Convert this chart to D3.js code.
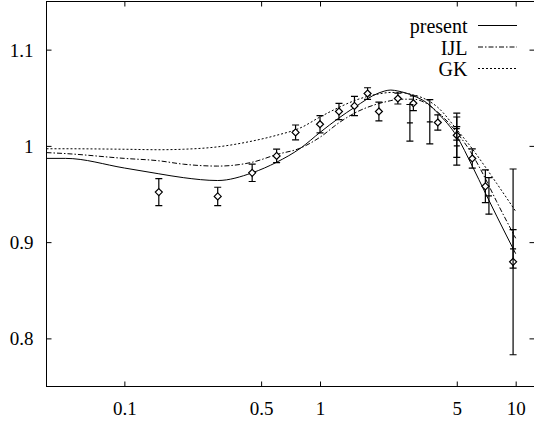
<!DOCTYPE html>
<html>
<head>
<meta charset="utf-8">
<script src="https://cdn.jsdelivr.net/npm/d3@7/dist/d3.min.js"></script>
<style>
  html, body { margin: 0; padding: 0; background: #fff; }
  svg { display: block; }
</style>
</head>
<body>
<svg id="chart" width="534" height="425"></svg>
<script>
// Theory curves sampled on a common x grid
const curveX   = [0.04, 0.05, 0.1, 0.15, 0.2, 0.3, 0.45, 0.6, 0.8, 1.0, 1.25, 1.5, 2.0, 2.3, 2.5, 3.0, 3.5, 4.0, 5.0, 6.0, 7.0, 8.0, 10.0];
const presentY = [0.987, 0.987, 0.977, 0.971, 0.967, 0.964, 0.972, 0.983, 0.998, 1.014, 1.029, 1.040, 1.055, 1.058, 1.057, 1.052, 1.045, 1.034, 1.010, 0.979, 0.951, 0.927, 0.888];
const ijlY     = [0.993, 0.992, 0.987, 0.9845, 0.981, 0.979, 0.983, 0.991, 0.998, 1.009, 1.024, 1.034, 1.044, 1.047, 1.0485, 1.0485, 1.044, 1.035, 1.014, 0.991, 0.966, 0.942, 0.904];
const gkY      = [0.997, 0.997, 0.9965, 0.996, 0.9965, 0.999, 1.005, 1.011, 1.019, 1.030, 1.040, 1.047, 1.054, 1.0555, 1.0555, 1.053, 1.048, 1.040, 1.017, 0.997, 0.978, 0.961, 0.932];

// Measurements drawn with diamonds
const pointX   = [0.15, 0.30, 0.45, 0.60, 0.75, 1.0, 1.25, 1.5, 1.75, 2.0, 2.5, 3.0, 4.0, 5.0, 6.0, 7.0, 9.7];
const pointY   = [0.952, 0.9475, 0.972, 0.9896, 1.014, 1.0225, 1.0357, 1.0415, 1.0544, 1.0357, 1.0492, 1.0443, 1.0243, 1.011, 0.9869, 0.958, 0.8795];
const pointErr = [0.014, 0.0095, 0.009, 0.007, 0.0077, 0.009, 0.0085, 0.010, 0.006, 0.0098, 0.0057, 0.0076, 0.008, 0.023, 0.010, 0.017, 0.0965];

// Measurements drawn with plus marks
const plusX    = [2.88, 3.64, 5.0, 5.0, 7.3, 9.7];
const plusY    = [1.024, 1.025, 1.000, 1.018, 0.948, 0.893];
const plusErr  = [0.019, 0.023, 0.020, 0.012, 0.019, 0.020];

const xTicks = [0.1, 0.5, 1, 5, 10];
const yTicks = [0.8, 0.9, 1.0, 1.1];

const seriesNames = ["present", "IJL", "GK"];
const seriesDash  = [null, "5,2,1.5,2", "2,2"];

const serif = "'Liberation Serif', 'Times New Roman', Times, 'DejaVu Serif', serif";

const svg = d3.select("#chart");
const m = { left: 46.5, right: 534.5, top: 1.5, bottom: 386.5 };

const x = d3.scaleLog().domain([0.04, 12.48]).range([m.left, m.right]);
const y = d3.scaleLinear().domain([0.75, 1.15]).range([m.bottom, m.top]);

svg.append("defs").append("clipPath").attr("id", "plot")
  .append("rect").attr("x", m.left).attr("y", m.top)
  .attr("width", m.right - m.left).attr("height", m.bottom - m.top);

// Frame
svg.append("rect").attr("x", m.left).attr("y", m.top)
  .attr("width", m.right - m.left).attr("height", m.bottom - m.top)
  .attr("fill", "none").attr("stroke", "#000").attr("stroke-width", 1);

// Axes (ticks on all four sides, labels on bottom and left)
const fmt = d => String(d);

const xBottom = svg.append("g").attr("transform", `translate(0,${m.bottom})`)
  .call(d3.axisBottom(x).tickValues(xTicks).tickFormat(fmt).tickSizeInner(-5).tickSizeOuter(0));
const xTop = svg.append("g").attr("transform", `translate(0,${m.top})`)
  .call(d3.axisTop(x).tickValues(xTicks).tickFormat("").tickSizeInner(-5).tickSizeOuter(0));
const yLeft = svg.append("g").attr("transform", `translate(${m.left},0)`)
  .call(d3.axisLeft(y).tickValues(yTicks).tickFormat(fmt).tickSizeInner(-5).tickSizeOuter(0));
const yRight = svg.append("g").attr("transform", `translate(${m.right},0)`)
  .call(d3.axisRight(y).tickValues(yTicks).tickFormat("").tickSizeInner(-5).tickSizeOuter(0));

[xBottom, xTop, yLeft, yRight].forEach(g => {
  g.attr("font-family", null).attr("font-size", null);
  g.select(".domain").remove();
  g.selectAll("line").attr("stroke", "#000").attr("stroke-width", 1);
  g.selectAll("text").style("font-family", serif).style("font-size", "19px").attr("fill", "#000");
});
xBottom.selectAll("text").attr("dy", null).attr("y", 28.5);
yLeft.selectAll("text").attr("x", -13).attr("dy", "0.34em");

// Curves
const plot = svg.append("g").attr("clip-path", "url(#plot)");
const line = d3.line().x(d => x(d[0])).y(d => y(d[1])).curve(d3.curveMonotoneX);
const seriesVals = [presentY, ijlY, gkY];
seriesVals.forEach((vals, i) => {
  plot.append("path")
    .datum(curveX.map((cx, k) => [cx, vals[k]]))
    .attr("d", line)
    .attr("fill", "none")
    .attr("stroke", "#000")
    .attr("stroke-width", 1)
    .attr("stroke-dasharray", seriesDash[i]);
});

// Error bars
function errorBars(xs, ys, es) {
  const g = plot.append("g").attr("stroke", "#000").attr("stroke-width", 1.2).attr("fill", "none");
  xs.forEach((xv, i) => {
    const px = x(xv), y1 = y(ys[i] + es[i]), y2 = y(ys[i] - es[i]);
    g.append("line").attr("x1", px).attr("x2", px).attr("y1", y1).attr("y2", y2);
    g.append("line").attr("x1", px - 3.5).attr("x2", px + 3.5).attr("y1", y1).attr("y2", y1);
    g.append("line").attr("x1", px - 3.5).attr("x2", px + 3.5).attr("y1", y2).attr("y2", y2);
  });
  return g;
}

const gd = errorBars(pointX, pointY, pointErr);
pointX.forEach((xv, i) => {
  const px = x(xv), py = y(pointY[i]), r = 3.5;
  gd.append("path")
    .attr("d", `M${px},${py - r}L${px + r},${py}L${px},${py + r}L${px - r},${py}Z`)
    .attr("fill", "#fff");
});

const gp = errorBars(plusX, plusY, plusErr);
plusX.forEach((xv, i) => {
  const px = x(xv), py = y(plusY[i]);
  gp.append("line").attr("x1", px - 3).attr("x2", px + 3).attr("y1", py).attr("y2", py);
});

// Legend
const legendRows = [25.5, 47, 68.5];
seriesNames.forEach((name, i) => {
  svg.append("text")
    .attr("x", 467.5).attr("y", legendRows[i] + 7.5)
    .attr("text-anchor", "end")
    .style("font-family", serif)
    .style("font-size", "20px")
    .attr("fill", "#000")
    .text(name);
  svg.append("line")
    .attr("x1", 478).attr("x2", 517)
    .attr("y1", legendRows[i]).attr("y2", legendRows[i])
    .attr("stroke", "#000").attr("stroke-width", 1)
    .attr("stroke-dasharray", seriesDash[i]);
});
</script>
</body>
</html>
